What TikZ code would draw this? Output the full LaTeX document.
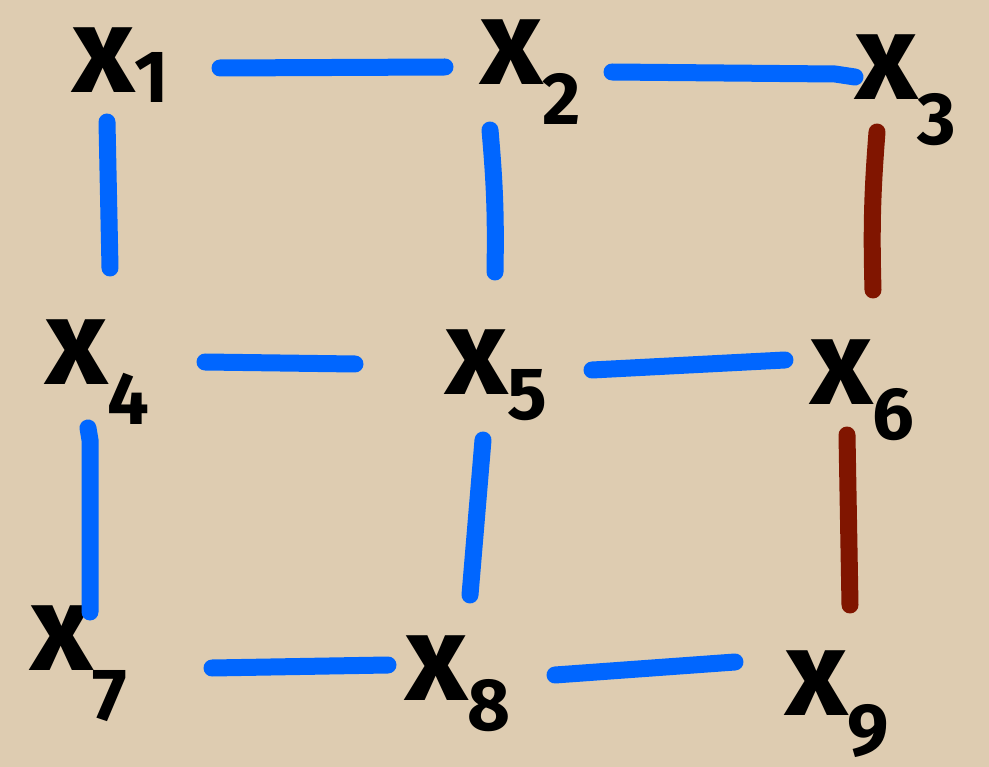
\documentclass[tikz,border=0pt]{standalone}
\usepackage{fontspec}
\setmainfont{Fira Sans}
\definecolor{paper}{RGB}{222,204,177}
\definecolor{penblue}{RGB}{0,102,255}
\definecolor{penred}{RGB}{128,21,0}
\newcommand\xlab[2]{x\raisebox{-#1pt}{\fontsize{74}{74}\selectfont #2}}
\tikzset{
  lab/.style={anchor=base west, inner sep=0pt, text=black, text height=68pt, text depth=45pt,
    font=\fontsize{122}{122}\selectfont\bfseries},
  edge/.style={line width=17pt, line cap=round, draw=penblue},
  redge/.style={edge, draw=penred}
}
\begin{document}
\begin{tikzpicture}[x=1pt,y=-1pt]
\fill[paper] (0,0) rectangle (989,767);
\useasboundingbox (0,0) rectangle (989,767);
\node[lab] (x1) at (72,93) {\xlab{10}{1}};
\node[lab] (x2) at (480,85) {\xlab{40}{2}};
\node[lab] (x3) at (855,100) {\xlab{45}{3}};
\node[lab] (x4) at (45,385) {\xlab{40}{4}};
\node[lab] (x5) at (445,395) {\xlab{25}{5}};
\node[lab] (x6) at (810,405) {\xlab{35}{6}};
\node[lab] (x7) at (30,670) {\xlab{50}{7}};
\node[lab] (x8) at (405,700) {\xlab{30}{8}};
\node[lab] (x9) at (785,715) {\xlab{40}{9}};
\draw[edge] ([shift={(148,-25)}]x1.base west) -- ([shift={(-35,-18)}]x2.base west);
\draw[edge] ([shift={(132,-13)}]x2.base west) -- ([shift={(-20,-26)}]x3.base west) -- ([shift={(0,-23)}]x3.base west);
\draw[edge] ([shift={(35,29)}]x1.base west) -- ([shift={(65,-117)}]x4.base west);
\draw[edge] ([shift={(10,45)}]x2.base west) to[bend left=3] ([shift={(50,-123)}]x5.base west);
\draw[redge] ([shift={(22,32)}]x3.base west) to[bend right=3] ([shift={(63,-115)}]x6.base west);
\draw[edge] ([shift={(160,-23)}]x4.base west) -- ([shift={(-90,-31)}]x5.base west);
\draw[edge] ([shift={(147,-25)}]x5.base west) -- ([shift={(-25,-45)}]x6.base west);
\draw[edge] ([shift={(43,43)}]x4.base west) -- ([shift={(45,55)}]x4.base west) -- ([shift={(60,-58)}]x7.base west);
\draw[edge] ([shift={(38,45)}]x5.base west) -- ([shift={(65,-105)}]x8.base west);
\draw[redge] ([shift={(37,30)}]x6.base west) -- ([shift={(65,-110)}]x9.base west);
\draw[edge] ([shift={(182,-2)}]x7.base west) -- ([shift={(-17,-35)}]x8.base west);
\draw[edge] ([shift={(150,-25)}]x8.base west) -- ([shift={(-50,-53)}]x9.base west);
\end{tikzpicture}
\end{document}
